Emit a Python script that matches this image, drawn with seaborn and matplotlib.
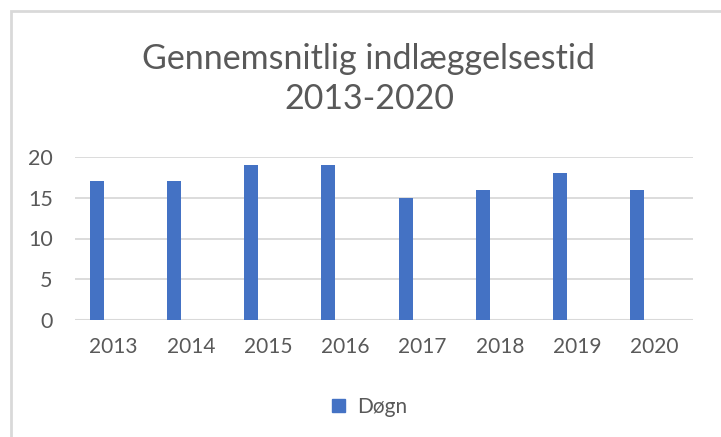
import matplotlib
matplotlib.use('Agg')
import matplotlib.pyplot as plt
import matplotlib.patches as mpatches
import pandas as pd
import seaborn as sns

# Chart data
years = ['2013', '2014', '2015', '2016', '2017', '2018', '2019', '2020']
days = [17, 17, 19, 19, 15, 16, 18, 16]
series_name = 'Døgn'
title = 'Gennemsnitlig indlæggelsestid\n2013-2020'

BLUE = '#4472C4'
GREY_TEXT = '#595959'
GRID = '#D9D9D9'

sns.set_theme(style='white')
plt.rcParams['font.family'] = ['Lato', 'DejaVu Sans']

df = pd.DataFrame({'year': years, 'days': days})

fig = plt.figure(figsize=(7.21, 4.37), dpi=100)
ax = fig.add_axes([75 / 721, 1 - 320 / 437, (693 - 75) / 721, (320 - 157) / 437])

sns.barplot(data=df, x='year', y='days', color=BLUE, width=0.18,
            saturation=1, ax=ax)

# Excel places the single series left of the category centre
for p in ax.patches:
    p.set_x(p.get_x() - 0.22)
    p.set_edgecolor('none')

ax.set_xlim(-0.5, len(years) - 0.5)
ax.set_ylim(0, 20)
ax.set_yticks([0, 5, 10, 15, 20])
ax.yaxis.grid(True, color=GRID, linewidth=1.3)
ax.set_axisbelow(True)
for s in ax.spines.values():
    s.set_visible(False)
ax.axhline(0, color=GRID, linewidth=1.5, zorder=0.5)
ax.set_xlabel('')
ax.set_ylabel('')
ax.tick_params(axis='both', length=0, labelsize=14.5, colors=GREY_TEXT)
ax.tick_params(axis='x', labelsize=15, pad=12)
ax.tick_params(axis='y', labelsize=15.5, pad=16)

fig.text(369 / 721, 1 - 79 / 437, title, ha='center', va='center',
         fontsize=24.5, color=GREY_TEXT, linespacing=1.3)

handle = mpatches.Patch(color=BLUE, label=series_name)
fig.legend(handles=[handle], loc='center', bbox_to_anchor=(370 / 721, 1 - 407 / 437),
           frameon=False, fontsize=15, labelcolor=GREY_TEXT,
           handlelength=0.6, handleheight=0.6, handletextpad=0.6)

# chart frame (top and left edges visible)
frame = mpatches.Rectangle((11 / 721, -0.05), 1.2, 1 - 11 / 437 + 0.05,
                           transform=fig.transFigure, fill=False,
                           edgecolor='#D9D9D9', linewidth=2)
fig.add_artist(frame)

fig.savefig('out.png', dpi=100)
